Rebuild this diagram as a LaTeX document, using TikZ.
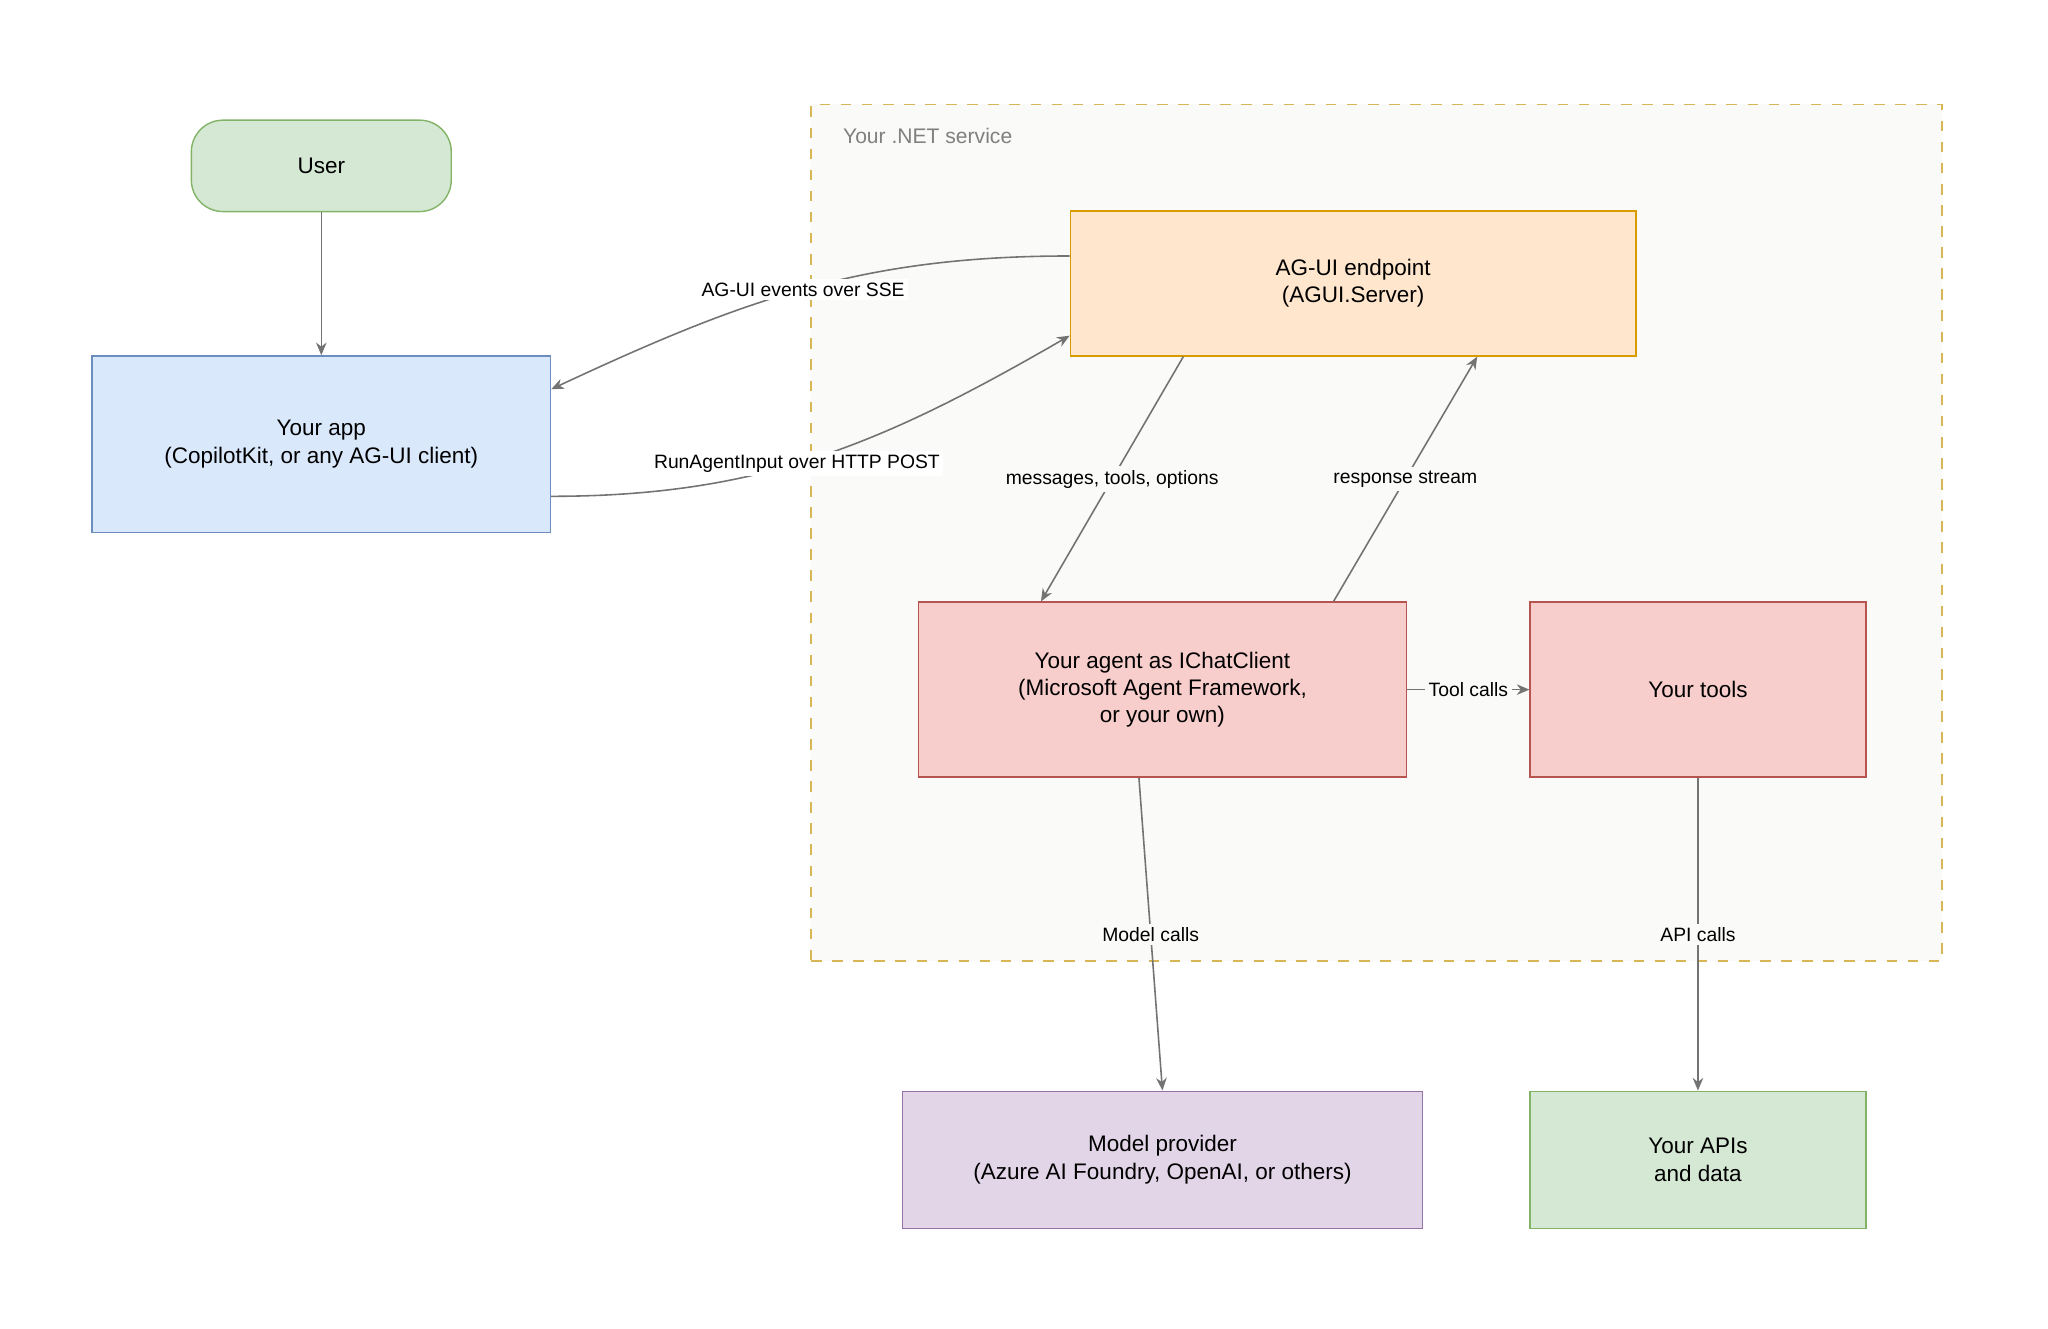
\documentclass[tikz,border=0pt]{standalone}
\usepackage{fontspec}
\setmainfont{Liberation Sans}
\usetikzlibrary{arrows.meta}
\definecolor{svcfill}{HTML}{FAFAF8}
\definecolor{svcline}{HTML}{D6B656}
\definecolor{grfill}{HTML}{D5E8D4}
\definecolor{grline}{HTML}{82B366}
\definecolor{blfill}{HTML}{DAE8FC}
\definecolor{blline}{HTML}{6C8EBF}
\definecolor{orfill}{HTML}{FFE6CC}
\definecolor{orline}{HTML}{D79B00}
\definecolor{rdfill}{HTML}{F8CECC}
\definecolor{rdline}{HTML}{B85450}
\definecolor{pufill}{HTML}{E1D5E7}
\definecolor{puline}{HTML}{9673A6}
\newcommand{\pxu}{0.013063cm}
\begin{document}
\begin{tikzpicture}[x=\pxu, y=-\pxu,
    % Styles
    box/.style={draw, minimum width=#1*\pxu, align=center, font=\fontsize{6.4}{7.8}\selectfont, inner sep=0pt, line width=0.4pt},
    flow/.style={-{Stealth[length=3.6pt,width=3pt]}, draw=gray!110, line width=0.45pt},
    lbl/.style={font=\fontsize{5.5}{7}\selectfont, fill=svcfill, inner sep=1pt},
]
\useasboundingbox (0,0) rectangle (20.48cm,-13.29cm);

% Service container
\node[draw=svcline, fill=svcfill, dashed, line width=0.5pt, minimum width=866*\pxu, minimum height=656*\pxu, inner sep=0pt] (svc) at (1054,408) {};
\node[anchor=west, text=gray, font=\fontsize{6}{7}\selectfont] (svclbl) at (636,104) {Your .NET service};

% Nodes
\node[box=199, minimum height=70*\pxu, rounded corners=9pt, draw=grline, fill=grfill] (user) at (246,127) {User};
\node[box=351, minimum height=135*\pxu, draw=blline, fill=blfill] (app) at (246,340) {Your app\\(CopilotKit, or any AG-UI client)};
\node[box=433, minimum height=111*\pxu, draw=orline, fill=orfill] (endpoint) at (1036,217) {AG-UI endpoint\\(AGUI.Server)};
\node[box=374, minimum height=134*\pxu, draw=rdline, fill=rdfill] (agent) at (890,528) {Your agent as IChatClient\\(Microsoft Agent Framework,\\or your own)};
\node[box=257, minimum height=134*\pxu, draw=rdline, fill=rdfill] (tools) at (1300,528) {Your tools};
\node[box=398, minimum height=105*\pxu, draw=puline, fill=pufill] (model) at (890,888) {Model provider\\(Azure AI Foundry, OpenAI, or others)};
\node[box=257, minimum height=105*\pxu, draw=grline, fill=grfill] (apis) at (1300,888) {Your APIs\\and data};

% Connectors
\draw[flow] ([yshift=21*\pxu]endpoint.west) to[out=180, in=25] node[lbl, fill=white, pos=0.5] {AG-UI events over SSE} ([yshift=42*\pxu]app.east);
\draw[flow] ([yshift=-40*\pxu]app.east) to[out=0, in=210] node[lbl, fill=white, pos=0.45] {RunAgentInput over HTTP POST} ([yshift=-40*\pxu]endpoint.west);
\draw[flow] (user) -- (app);
\draw[flow] ([xshift=-130*\pxu]endpoint.south) -- node[lbl] {messages, tools, options} ([xshift=-93*\pxu]agent.north);
\draw[flow] ([xshift=131*\pxu]agent.north) -- node[lbl] {response stream} ([xshift=95*\pxu]endpoint.south);
\draw[flow] (agent) -- node[lbl] {Tool calls} (tools);
\draw[flow] ([xshift=-18*\pxu]agent.south) -- node[lbl, pos=0.5] {Model calls} (model.north);
\draw[flow] (tools) -- node[lbl, pos=0.5] {API calls} (apis);

\end{tikzpicture}
\end{document}
